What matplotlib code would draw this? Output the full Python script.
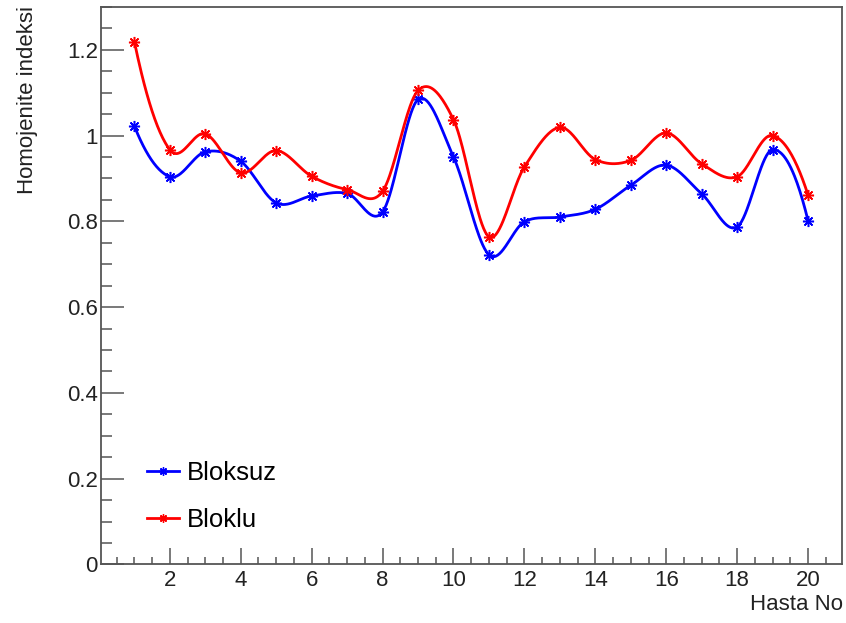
import numpy as np
import matplotlib.pyplot as plt

plt.rcParams['font.family'] = ['Liberation Sans', 'DejaVu Sans']

# Hasta numaralari ve homojenite indeksleri
hasta_no = np.arange(1, 21)
bloksuz = [1.022, 0.904, 0.962, 0.940, 0.843, 0.859, 0.865, 0.822, 1.084, 0.950,
           0.722, 0.799, 0.810, 0.828, 0.884, 0.931, 0.864, 0.787, 0.967, 0.801]
bloklu = [1.219, 0.967, 1.004, 0.913, 0.965, 0.905, 0.874, 0.870, 1.105, 1.037,
          0.764, 0.927, 1.019, 0.944, 0.942, 1.006, 0.934, 0.904, 1.000, 0.861]


def smooth_curve(x, y, n=40):
    """Catmull-Rom egrisi: noktalardan gecen yumusak cizgi (ROOT 'C' secenegi gibi)."""
    x = np.asarray(x, float)
    y = np.asarray(y, float)
    m = np.gradient(y, x, edge_order=2)
    xs_all, ys_all = [], []
    for i in range(len(x) - 1):
        h = x[i + 1] - x[i]
        t = np.linspace(0, 1, n, endpoint=(i == len(x) - 2))
        h00 = 2 * t**3 - 3 * t**2 + 1
        h10 = t**3 - 2 * t**2 + t
        h01 = -2 * t**3 + 3 * t**2
        h11 = t**3 - t**2
        xs_all.append(x[i] + t * h)
        ys_all.append(h00 * y[i] + h10 * h * m[i] + h01 * y[i + 1] + h11 * h * m[i + 1])
    return np.concatenate(xs_all), np.concatenate(ys_all)


fig = plt.figure(figsize=(8.46, 6.23), dpi=100)
ax = fig.add_axes([0.119, 0.094, 0.876, 0.895])

star = (8, 2, 0)
for vals, color, label in [(bloksuz, '#0000ff', 'Bloksuz'), (bloklu, '#ff0000', 'Bloklu')]:
    xs, ys = smooth_curve(hasta_no, vals)
    ax.plot(xs, ys, color=color, lw=2.0)
    ax.plot(hasta_no, vals, ls='none', marker=star, ms=8, mew=1.1, color=color)
    # legend icin cizgi + isaret
    ax.plot([], [], color=color, lw=2.0, marker=star, ms=6, mew=1.0, label=label)

ax.set_xlim(0.05, 20.95)
ax.set_ylim(0, 1.3)
ax.set_xticks(np.arange(2, 21, 2))
ax.set_xticks(np.arange(0.5, 21, 0.5), minor=True)
ax.set_yticks([0, 0.2, 0.4, 0.6, 0.8, 1.0, 1.2])
ax.set_yticklabels(['0', '0.2', '0.4', '0.6', '0.8', '1', '1.2'])
ax.set_yticks(np.arange(0, 1.31, 0.05), minor=True)

frame = '#555555'
for s in ax.spines.values():
    s.set_color(frame)
    s.set_linewidth(1.3)
ax.tick_params(axis='both', which='both', direction='in', color=frame, width=1.1,
               labelsize=16, labelcolor='#222222')
ax.tick_params(axis='y', which='major', length=16.5, pad=2)
ax.tick_params(axis='y', which='minor', length=8)
ax.tick_params(axis='x', which='major', length=11.5, pad=4)
ax.tick_params(axis='x', which='minor', length=5.3)

fig.text(0.032, 0.99, 'Homojenite indeksi', rotation=90, ha='center', va='top',
         fontsize=16, color='#222222')
fig.text(0.996, 1 - 605 / 623, 'Hasta No', ha='right', va='center',
         fontsize=16, color='#222222')

ax.legend(loc='center left', bbox_to_anchor=(0.0625, 0.122), frameon=False,
          fontsize=18.5, handlelength=1.25, handletextpad=0.31, labelspacing=0.88,
          borderpad=0, borderaxespad=0)

fig.savefig('out.png', dpi=100)
